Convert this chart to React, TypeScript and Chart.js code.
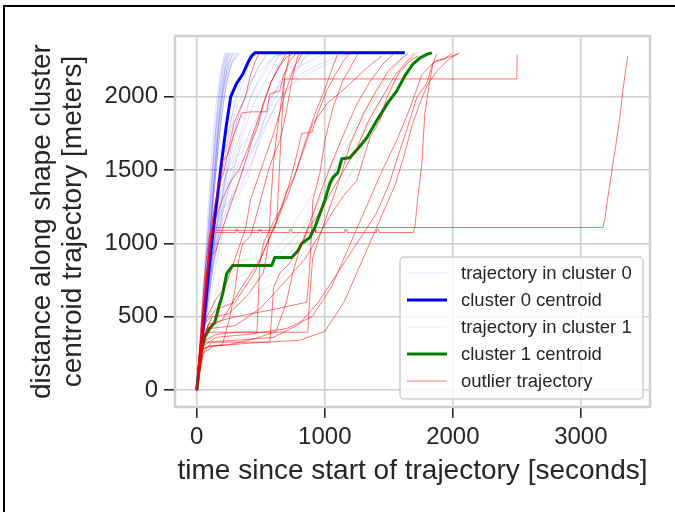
import React, { useEffect, useRef } from "react";
import { Chart, registerables } from "chart.js";

Chart.register(...registerables);

// ---------- axis settings ----------
const xTickValues = [0, 1000, 2000, 3000];
const yTickValues = [0, 500, 1000, 1500, 2000];
const xRange = [-170, 3540];
const yRange = [-115, 2415];
const xAxisTitle = "time since start of trajectory [seconds]";
const yAxisTitle = ["distance along shape cluster", "centroid trajectory [meters]"];
const legendLabels = [
  "trajectory in cluster 0",
  "cluster 0 centroid",
  "trajectory in cluster 1",
  "cluster 1 centroid",
  "outlier trajectory",
];

// ---------- data: [time s, distance m] ----------
const cluster0Centroid = [
  [0, 0], [45, 380], [86, 748], [130, 1100], [165, 1350], [195, 1565], [230, 1800],
  [265, 2000], [310, 2090], [360, 2156], [406, 2245], [430, 2280], [453, 2300], [1625, 2300],
];

const cluster1Centroid = [
  [0, 0], [30, 250], [62, 360], [100, 420], [141, 462], [170, 560], [203, 660], [234, 796],
  [281, 850], [586, 850], [609, 905], [742, 905], [790, 950], [820, 1000], [883, 1041],
  [922, 1109], [977, 1238], [1000, 1293], [1039, 1408], [1063, 1449], [1102, 1483],
  [1133, 1578], [1195, 1585], [1258, 1646], [1328, 1721], [1414, 1850], [1492, 1959],
  [1562, 2041], [1625, 2143], [1688, 2224], [1742, 2265], [1805, 2293], [1836, 2300],
];

const cluster0Trajectories = [
  [[0, 0], [25, 350], [50, 700], [75, 1050], [100, 1400], [125, 1700], [150, 1950], [180, 2150], [220, 2300]],
  [[0, 0], [30, 380], [60, 760], [90, 1120], [120, 1480], [145, 1750], [170, 2000], [200, 2200], [235, 2300]],
  [[0, 0], [28, 300], [62, 720], [95, 1100], [128, 1520], [160, 1850], [190, 2080], [230, 2250], [260, 2300]],
  [[0, 0], [35, 360], [70, 800], [105, 1200], [140, 1600], [175, 1900], [215, 2150], [250, 2300]],
  [[0, 0], [40, 420], [80, 850], [118, 1250], [150, 1620], [185, 1950], [225, 2200], [270, 2300]],
  [[0, 0], [32, 330], [66, 690], [102, 1080], [136, 1450], [170, 1800], [205, 2060], [245, 2230], [290, 2300]],
  [[0, 0], [38, 400], [78, 830], [112, 1180], [148, 1560], [182, 1880], [220, 2120], [262, 2260], [300, 2300]],
  [[0, 0], [45, 430], [88, 880], [128, 1300], [162, 1660], [196, 1980], [236, 2190], [280, 2300]],
  [[0, 0], [30, 290], [64, 650], [98, 1010], [132, 1390], [168, 1760], [206, 2030], [252, 2210], [310, 2300]],
  [[0, 0], [42, 450], [84, 900], [122, 1330], [156, 1700], [190, 2020], [228, 2240], [255, 2300]],
  [[0, 0], [36, 340], [74, 740], [110, 1120], [150, 1500], [190, 1840], [232, 2100], [280, 2250], [330, 2300]],
  [[0, 0], [27, 320], [55, 680], [85, 1030], [115, 1390], [145, 1730], [178, 2010], [212, 2210], [242, 2300]],
  [[0, 0], [50, 460], [96, 920], [138, 1360], [176, 1720], [214, 2000], [258, 2200], [320, 2300]],
  [[0, 0], [33, 310], [70, 700], [108, 1090], [146, 1470], [186, 1810], [228, 2080], [276, 2240], [350, 2300]],
  [[0, 0], [22, 260], [48, 590], [76, 950], [104, 1310], [132, 1660], [162, 1960], [196, 2180], [230, 2300]],
  [[0, 0], [40, 350], [90, 800], [140, 1200], [190, 1500], [240, 1750], [300, 1950], [360, 2100], [420, 2250], [470, 2300]],
  [[0, 0], [45, 380], [100, 780], [160, 1150], [220, 1420], [280, 1700], [330, 1900], [400, 2050], [480, 2200], [560, 2300]],
  [[0, 0], [50, 400], [110, 820], [170, 1180], [230, 1470], [300, 1640], [360, 1800], [420, 2000], [500, 2150], [600, 2270], [650, 2300]],
  [[0, 0], [38, 330], [85, 700], [130, 1050], [180, 1380], [230, 1650], [270, 1850], [320, 2050], [380, 2200], [420, 2300]],
  [[0, 0], [60, 450], [120, 880], [180, 1250], [240, 1560], [300, 1800], [380, 2000], [460, 2170], [540, 2290]],
  [[0, 0], [55, 420], [115, 850], [175, 1300], [235, 1500], [290, 1520], [340, 1700], [400, 1850], [470, 2000], [560, 2150], [640, 2280], [700, 2300]],
  [[0, 0], [50, 380], [110, 760], [170, 1100], [230, 1380], [300, 1600], [360, 1620], [420, 1780], [500, 1900], [580, 2000], [660, 2080], [760, 2180], [860, 2280], [900, 2300]],
  [[0, 0], [60, 420], [130, 850], [200, 1200], [270, 1450], [350, 1680], [420, 1720], [500, 1850], [580, 2000], [680, 2120], [780, 2200], [900, 2250], [1000, 2300]],
  [[0, 0], [70, 450], [150, 850], [220, 1150], [280, 1350], [340, 1380], [400, 1500], [470, 1650], [540, 1800], [620, 1950], [720, 2060], [820, 2160], [950, 2220], [1100, 2270], [1200, 2300]],
  [[0, 0], [45, 360], [100, 730], [160, 1050], [220, 1300], [290, 1480], [370, 1500], [450, 1650], [520, 1830], [600, 1980], [700, 2100], [800, 2200], [860, 2300]],
  [[0, 0], [55, 400], [120, 800], [190, 1150], [260, 1400], [330, 1550], [410, 1600], [480, 1720], [560, 1850], [640, 1980], [740, 2080], [850, 2150], [960, 2200], [1080, 2240], [1180, 2290], [1220, 2300]],
  [[0, 0], [40, 300], [90, 620], [140, 900], [200, 1150], [260, 1300], [320, 1320], [400, 1450], [470, 1650], [530, 1850], [600, 2020], [680, 2150], [760, 2250], [820, 2300]],
  [[0, 0], [65, 500], [135, 950], [200, 1300], [260, 1580], [320, 1800], [400, 1950], [480, 2100], [560, 2200], [640, 2280], [700, 2300]],
  [[0, 0], [30, 260], [70, 560], [110, 850], [150, 1100], [200, 1250], [260, 1280], [330, 1420], [400, 1600], [460, 1780], [520, 1960], [580, 2100], [640, 2220], [690, 2300]],
  [[0, 0], [48, 390], [100, 800], [150, 1180], [200, 1480], [250, 1720], [300, 1900], [370, 2050], [450, 2140], [540, 2220], [620, 2280], [680, 2300]],
];

const cluster1Trajectories = [
  [[0, 0], [30, 200], [70, 360], [140, 470], [200, 650], [260, 800], [350, 830], [480, 850], [600, 870], [700, 920], [800, 990], [880, 1080], [950, 1200], [1020, 1350], [1100, 1480], [1200, 1600], [1300, 1750], [1400, 1900], [1500, 2050], [1600, 2180], [1700, 2270], [1780, 2300]],
  [[0, 0], [40, 250], [90, 380], [170, 520], [250, 620], [350, 700], [450, 740], [560, 780], [650, 850], [740, 950], [830, 1050], [900, 1150], [980, 1300], [1060, 1420], [1150, 1560], [1250, 1700], [1350, 1850], [1450, 2000], [1550, 2120], [1650, 2230], [1720, 2300]],
  [[0, 0], [35, 300], [80, 420], [150, 560], [230, 700], [300, 760], [400, 800], [520, 820], [620, 900], [720, 1000], [820, 1100], [920, 1230], [1000, 1380], [1080, 1500], [1180, 1650], [1280, 1800], [1380, 1960], [1480, 2100], [1580, 2200], [1680, 2290], [1720, 2300]],
  [[0, 0], [50, 280], [110, 400], [180, 600], [240, 780], [320, 880], [420, 900], [520, 920], [620, 960], [720, 1060], [790, 1180], [860, 1280], [940, 1380], [1030, 1500], [1120, 1640], [1220, 1780], [1320, 1920], [1420, 2060], [1520, 2180], [1620, 2260], [1700, 2300]],
  [[0, 0], [45, 230], [100, 350], [180, 450], [270, 550], [380, 620], [500, 680], [600, 720], [700, 800], [800, 900], [880, 1000], [960, 1120], [1050, 1250], [1150, 1400], [1250, 1560], [1350, 1720], [1450, 1880], [1550, 2020], [1650, 2150], [1760, 2260], [1850, 2300]],
  [[0, 0], [30, 280], [75, 400], [130, 600], [190, 780], [250, 850], [330, 880], [430, 890], [540, 900], [640, 940], [740, 1020], [830, 1100], [910, 1200], [990, 1350], [1080, 1500], [1170, 1650], [1260, 1800], [1360, 1950], [1460, 2100], [1560, 2220], [1640, 2300]],
];

const outlierTrajectories = [
  [[0, 0], [20, 200], [45, 450], [75, 750], [105, 1000], [130, 1109], [3172, 1109], [3190, 1180], [3203, 1272], [3230, 1420], [3250, 1544], [3270, 1650], [3289, 1769], [3310, 1900], [3328, 2041], [3345, 2150], [3367, 2279]],
  [[0, 0], [25, 250], [55, 550], [85, 850], [115, 1075], [300, 1075], [305, 1095], [320, 1095], [325, 1075], [480, 1075], [485, 1095], [500, 1095], [505, 1075], [720, 1075], [725, 1095], [740, 1095], [745, 1075], [900, 1075], [905, 1095], [925, 1095], [930, 1075], [1150, 1075], [1155, 1095], [1170, 1095], [1175, 1075], [1400, 1075], [1405, 1095], [1420, 1095], [1425, 1075], [1690, 1075], [1703, 1109], [1727, 1313], [1758, 1544], [1781, 1884], [1820, 2109], [1844, 2224], [1875, 2293]],
  [[0, 0], [35, 300], [70, 620], [100, 900], [125, 1090], [600, 1090], [625, 1150], [645, 1500], [665, 1850], [685, 2122], [2500, 2122], [2502, 2290]],
  [[0, 0], [30, 200], [60, 380], [120, 500], [250, 520], [400, 650], [520, 800], [560, 1000], [580, 1300], [600, 1565], [640, 1850], [690, 2150], [727, 2293]],
  [[0, 0], [30, 300], [60, 600], [90, 900], [120, 1150], [160, 1350], [203, 1565], [240, 1600], [281, 1721], [352, 1891], [430, 1898], [547, 1898], [570, 2020], [648, 2041], [672, 2129], [727, 2245], [773, 2293]],
  [[0, 0], [40, 300], [90, 450], [300, 500], [600, 550], [860, 600], [880, 816], [895, 1041], [906, 1293], [961, 1476], [1000, 1700], [1063, 1925], [1141, 2109], [1258, 2293]],
  [[0, 0], [30, 280], [80, 420], [200, 480], [350, 700], [500, 900], [620, 1150], [700, 1350], [760, 1450], [805, 1565], [906, 1816], [1016, 1952], [1195, 2088], [1328, 2197], [1445, 2279]],
  [[0, 0], [40, 330], [100, 420], [300, 440], [500, 560], [700, 750], [850, 900], [950, 1050], [1050, 1200], [1150, 1330], [1250, 1429], [1352, 1721], [1430, 1837], [1484, 1993], [1586, 2177], [1664, 2245], [1727, 2279]],
  [[0, 0], [50, 300], [150, 360], [400, 380], [700, 420], [900, 500], [1050, 700], [1150, 900], [1250, 1100], [1350, 1300], [1450, 1500], [1560, 1700], [1655, 1900], [1700, 2008], [1758, 2150], [1860, 2245], [1930, 2260], [1992, 2293]],
  [[0, 0], [45, 250], [120, 330], [300, 340], [600, 360], [800, 450], [950, 600], [1100, 800], [1250, 1000], [1400, 1200], [1500, 1400], [1580, 1617], [1640, 1774], [1719, 1999], [1797, 2094], [1844, 2231], [1953, 2265], [2039, 2293]],
  [[0, 0], [25, 220], [60, 327], [300, 327], [570, 327], [585, 500], [600, 700], [650, 800], [720, 860], [820, 1000], [900, 1180], [980, 1380], [1060, 1560], [1150, 1750], [1250, 1950], [1350, 2100], [1450, 2220], [1540, 2295]],
  [[0, 0], [30, 250], [70, 395], [470, 395], [867, 395], [880, 600], [905, 900], [960, 1050], [1040, 1250], [1120, 1450], [1200, 1680], [1300, 1880], [1400, 2040], [1500, 2180], [1600, 2260], [1650, 2295]],
  [[0, 0], [20, 260], [45, 520], [70, 780], [100, 900], [150, 950], [200, 1100], [260, 1250], [320, 1400], [380, 1560], [430, 1700], [470, 1780], [520, 1950], [580, 2100], [640, 2200], [700, 2270], [760, 2300]],
  [[0, 0], [35, 330], [80, 500], [150, 620], [220, 700], [300, 900], [380, 1100], [420, 1300], [480, 1450], [540, 1600], [600, 1750], [650, 1900], [700, 2050], [760, 2200], [820, 2290]],
  [[0, 0], [40, 280], [110, 300], [250, 310], [450, 350], [620, 400], [700, 600], [750, 800], [800, 950], [870, 1100], [950, 1200], [1050, 1350], [1150, 1500], [1250, 1650], [1350, 1850], [1450, 2000], [1550, 2150], [1650, 2250], [1700, 2290]],
  [[0, 0], [30, 280], [70, 340], [150, 380], [300, 395], [470, 395], [480, 600], [490, 850], [520, 1000], [600, 1150], [700, 1300], [780, 1500], [850, 1700], [930, 1900], [1000, 2050], [1060, 2200], [1100, 2290]],
  [[0, 0], [25, 300], [60, 450], [150, 550], [300, 600], [450, 800], [550, 1000], [650, 1200], [720, 1400], [780, 1600], [820, 1750], [900, 1760], [950, 1900], [1020, 2050], [1080, 2150], [1150, 2250], [1200, 2300]],
  [[0, 0], [25, 300], [50, 650], [75, 900], [100, 1050], [140, 1150], [200, 1300], [260, 1420], [330, 1500], [400, 1650], [460, 1800], [520, 1950], [580, 2100], [640, 2200], [700, 2300]],
  [[0, 0], [50, 250], [130, 300], [400, 320], [800, 340], [1000, 400], [1150, 600], [1250, 800], [1350, 1000], [1450, 1200], [1550, 1400], [1620, 1600], [1680, 1800], [1740, 1950], [1800, 2080], [1880, 2180], [1960, 2250], [2050, 2300]],
  [[0, 0], [20, 200], [50, 280], [100, 300], [200, 310], [260, 500], [300, 700], [330, 900], [360, 1000], [420, 1050], [500, 1300], [560, 1500], [600, 1600], [650, 1700], [700, 1900], [740, 2100], [780, 2250], [800, 2300]],
  [[0, 0], [15, 180], [40, 420], [70, 700], [95, 950], [130, 1200], [170, 1400], [210, 1480], [250, 1650], [290, 1820], [330, 1900], [380, 2000], [420, 2150], [460, 2250], [490, 2300]],
];

// ---------- styles ----------
const FONT = "'Liberation Sans', Arial, Helvetica, sans-serif";
const TEXT = "#262626";
const GRID = "#cfcfcf";
const styleC0 = { color: "rgba(0,0,255,0.13)", width: 1 };
const styleC0Centroid = { color: "#0000ff", width: 3 };
const styleC1 = { color: "rgba(0,128,0,0.12)", width: 1 };
const styleC1Centroid = { color: "#008000", width: 3 };
const styleOut = { color: "rgba(255,0,0,0.55)", width: 1 };
const legendStyles = [styleC0, styleC0Centroid, styleC1, styleC1Centroid, styleOut];

const toPoints = (traj: number[][]) => traj.map(([t, d]) => ({ x: t, y: d }));

function makeDataset(label: string, traj: number[][], style: { color: string; width: number }, order: number) {
  return {
    label,
    data: toPoints(traj),
    borderColor: style.color,
    borderWidth: style.width,
    pointRadius: 0,
    fill: false,
    tension: 0,
    borderJoinStyle: "round" as const,
    order,
  };
}

const framePlugin = {
  id: "frame",
  afterDatasetsDraw(chart: any) {
    const { ctx, chartArea: a } = chart;
    ctx.save();
    ctx.strokeStyle = GRID;
    ctx.lineWidth = 2.5;
    ctx.strokeRect(a.left, a.top, a.right - a.left, a.bottom - a.top);
    ctx.restore();
  },
};

const legendPlugin = {
  id: "insideLegend",
  afterDraw(chart: any) {
    const { ctx, chartArea: a } = chart;
    const w = 243;
    const h = 142;
    const right = a.right - 7;
    const bottom = a.bottom - 8;
    const left = right - w;
    const top = bottom - h;
    ctx.save();
    ctx.beginPath();
    ctx.roundRect(left, top, w, h, 4);
    ctx.fillStyle = "rgba(255,255,255,0.85)";
    ctx.fill();
    ctx.strokeStyle = GRID;
    ctx.lineWidth = 1.5;
    ctx.stroke();
    ctx.font = `18.5px ${FONT}`;
    ctx.textBaseline = "middle";
    ctx.textAlign = "left";
    legendLabels.forEach((lab, i) => {
      const y = top + 16 + i * 27;
      const st = legendStyles[i];
      ctx.beginPath();
      ctx.moveTo(left + 7, y);
      ctx.lineTo(left + 47, y);
      ctx.strokeStyle = st.color;
      ctx.lineWidth = st.width;
      ctx.stroke();
      ctx.fillStyle = TEXT;
      ctx.fillText(lab, left + 61, y + 1);
    });
    ctx.restore();
  },
};

export default function App() {
  const canvasRef = useRef<HTMLCanvasElement | null>(null);

  useEffect(() => {
    if (!canvasRef.current) return;
    const datasets: any[] = [];
    outlierTrajectories.forEach((tr) => datasets.push(makeDataset("outlier trajectory", tr, styleOut, 1)));
    datasets.push(makeDataset("cluster 1 centroid", cluster1Centroid, styleC1Centroid, 2));
    cluster1Trajectories.forEach((tr) => datasets.push(makeDataset("trajectory in cluster 1", tr, styleC1, 3)));
    datasets.push(makeDataset("cluster 0 centroid", cluster0Centroid, styleC0Centroid, 4));
    cluster0Trajectories.forEach((tr) => datasets.push(makeDataset("trajectory in cluster 0", tr, styleC0, 5)));

    const chart = new Chart(canvasRef.current, {
      type: "line",
      data: { datasets },
      plugins: [framePlugin, legendPlugin],
      options: {
        animation: false,
        responsive: true,
        maintainAspectRatio: false,
        layout: { padding: { left: 0, right: 25, top: 36, bottom: 0 } },
        plugins: { legend: { display: false }, tooltip: { enabled: false } },
        scales: {
          x: {
            type: "linear",
            min: xRange[0],
            max: xRange[1],
            afterBuildTicks: (s: any) => {
              s.ticks = xTickValues.map((v) => ({ value: v }));
            },
            afterFit: (s: any) => {
              s.height = 105;
            },
            grid: { color: GRID, lineWidth: 1.6, tickColor: TEXT, tickLength: 11, tickWidth: 1.6 },
            border: { display: false },
            ticks: {
              color: TEXT,
              font: { size: 24, family: FONT },
              padding: 5,
              maxRotation: 0,
              callback: (v: any) => String(v),
            },
            title: {
              display: true,
              text: xAxisTitle,
              color: TEXT,
              font: { size: 28, family: FONT, lineHeight: 1.1 },
              padding: { top: 0, bottom: 25 },
            },
          },
          y: {
            type: "linear",
            min: yRange[0],
            max: yRange[1],
            afterBuildTicks: (s: any) => {
              s.ticks = yTickValues.map((v) => ({ value: v }));
            },
            afterFit: (s: any) => {
              s.width = 175;
            },
            grid: { color: GRID, lineWidth: 1.6, tickColor: TEXT, tickLength: 11, tickWidth: 1.6 },
            border: { display: false },
            ticks: {
              color: TEXT,
              font: { size: 24, family: FONT },
              padding: 6,
              callback: (v: any) => String(v),
            },
            title: {
              display: true,
              text: yAxisTitle,
              color: TEXT,
              font: { size: 28, family: FONT, lineHeight: 1.1 },
              padding: { top: 27, bottom: 0 },
            },
          },
        },
      },
    });
    return () => chart.destroy();
  }, []);

  return (
    <div style={{ position: "fixed", left: 0, top: 0, width: 675, height: 512, background: "#fff", overflow: "hidden" }}>
      <canvas ref={canvasRef} />
      <div
        style={{
          position: "absolute",
          left: 3,
          top: 5,
          width: 700,
          height: 600,
          borderTop: "2px solid #000",
          borderLeft: "2px solid #000",
          pointerEvents: "none",
        }}
      />
    </div>
  );
}
